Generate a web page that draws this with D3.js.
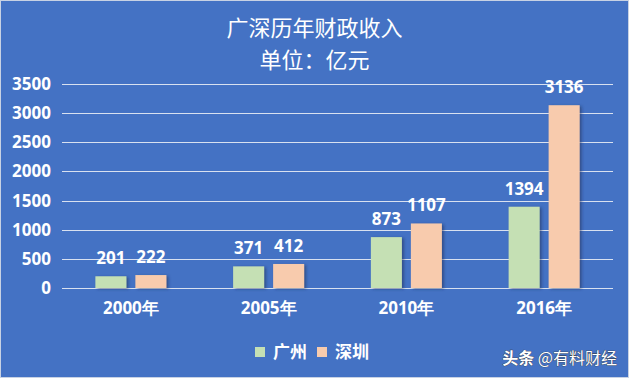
<!DOCTYPE html>
<html>
<head>
<meta charset="utf-8">
<script src="https://cdn.jsdelivr.net/npm/d3@7"></script>
<style>
  body { margin: 0; background: #fff; }
  svg { display: block; }
</style>
</head>
<body>
<div id="chart"></div>
<script>
// data
var years = ["2000年", "2005年", "2010年", "2016年"];
var seriesNames = ["广州", "深圳"];
var guangzhou = [201, 371, 873, 1394];
var shenzhen = [222, 412, 1107, 3136];
var yTicks = [0, 500, 1000, 1500, 2000, 2500, 3000, 3500];

var W = 629, H = 378;
var colors = {"广州": "#C5E0B4", "深圳": "#F8CBAD"};
var bg = "#4472C4";
var numFont = "'Open Sans', 'DejaVu Sans', sans-serif";
var cjkFont = "'Noto Sans CJK SC', sans-serif";

var svg = d3.select("#chart").append("svg")
    .attr("width", W)
    .attr("height", H);

// bar shadow
var defs = svg.append("defs");
var f = defs.append("filter").attr("id", "shadow")
    .attr("x", "-20%").attr("y", "-20%").attr("width", "150%").attr("height", "150%");
f.append("feDropShadow")
    .attr("dx", 2).attr("dy", 1)
    .attr("stdDeviation", 1.5)
    .attr("flood-color", "#1a2d55")
    .attr("flood-opacity", 0.55);

svg.append("rect")
    .attr("x", 0.5).attr("y", 0.5)
    .attr("width", W - 1).attr("height", H - 1)
    .attr("fill", bg)
    .attr("stroke", "#c8d2e4")
    .attr("stroke-width", 1);

// title
svg.append("text")
    .attr("x", W / 2).attr("y", 36)
    .attr("text-anchor", "middle")
    .attr("fill", "#fff")
    .style("font-family", cjkFont)
    .style("font-size", "22px")
    .text("广深历年财政收入");
svg.append("text")
    .attr("x", W / 2).attr("y", 68)
    .attr("text-anchor", "middle")
    .attr("fill", "#fff")
    .style("font-family", cjkFont)
    .style("font-size", "22px")
    .text("单位：亿元");

// scales
var x0 = d3.scaleBand().domain(years).range([62, 613]);
var groupW = 71;
var x1 = d3.scaleBand().domain(seriesNames)
    .range([x0.bandwidth() / 2 - groupW / 2, x0.bandwidth() / 2 + groupW / 2])
    .paddingInner(0.225);
var y = d3.scaleLinear().domain([0, 3500]).range([288, 84]);

// gridlines
svg.append("g").selectAll("line")
    .data(yTicks)
    .join("line")
    .attr("x1", 62).attr("x2", 613)
    .attr("y1", function(d) { return Math.round(y(d)) + 0.5; })
    .attr("y2", function(d) { return Math.round(y(d)) + 0.5; })
    .attr("stroke", "#d9e1f0")
    .attr("stroke-width", 1);

// y axis labels
var yAxis = svg.append("g")
    .attr("transform", "translate(51,0)")
    .call(d3.axisLeft(y).tickValues(yTicks).tickFormat(d3.format("d")).tickSize(0).tickPadding(0));
yAxis.select(".domain").remove();
yAxis.selectAll("text")
    .attr("fill", "#fff")
    .style("font-family", numFont)
    .style("font-weight", "bold")
    .style("font-size", "17px");

// x axis labels
var xAxis = svg.append("g")
    .attr("transform", "translate(0,302)")
    .call(d3.axisBottom(x0).tickSize(0).tickPadding(0));
xAxis.select(".domain").remove();
xAxis.selectAll("text")
    .attr("fill", "#fff")
    .attr("dy", "0.71em")
    .style("font-family", numFont)
    .style("font-weight", "bold")
    .style("font-size", "17px");

// bars
var rows = years.map(function(yr, i) {
  return {year: yr, values: [
    {name: "广州", value: guangzhou[i]},
    {name: "深圳", value: shenzhen[i]}
  ]};
});

var groups = svg.append("g").selectAll("g")
    .data(rows)
    .join("g")
    .attr("transform", function(d) { return "translate(" + x0(d.year) + ",0)"; });

groups.selectAll("rect")
    .data(function(d) { return d.values; })
    .join("rect")
    .attr("x", function(d) { return x1(d.name); })
    .attr("y", function(d) { return y(d.value); })
    .attr("width", x1.bandwidth())
    .attr("height", function(d) { return y(0) - y(d.value); })
    .attr("fill", function(d) { return colors[d.name]; })
    .attr("filter", "url(#shadow)");

groups.selectAll("text")
    .data(function(d) { return d.values; })
    .join("text")
    .attr("x", function(d) { return x1(d.name) + x1.bandwidth() / 2; })
    .attr("y", function(d) { return y(d.value) - 12; })
    .attr("text-anchor", "middle")
    .attr("fill", "#fff")
    .style("font-family", numFont)
    .style("font-weight", "bold")
    .style("font-size", "17px")
    .text(function(d) { return d.value; });

// legend
var legend = svg.append("g").selectAll("g")
    .data(seriesNames)
    .join("g")
    .attr("transform", function(d, i) { return "translate(" + (255 + i * 62) + ",347)"; });
legend.append("rect")
    .attr("width", 10).attr("height", 10)
    .attr("fill", function(d) { return colors[d]; });
legend.append("text")
    .attr("x", 18).attr("y", 5)
    .attr("dy", "0.36em")
    .attr("fill", "#fff")
    .style("font-family", cjkFont)
    .style("font-weight", "bold")
    .style("font-size", "17px")
    .text(function(d) { return d; });

// watermark
var wm = svg.append("text")
    .attr("x", 617).attr("y", 364)
    .attr("text-anchor", "end")
    .attr("fill", "#fff")
    .attr("stroke", "#333")
    .attr("stroke-width", 0.6)
    .attr("paint-order", "stroke")
    .style("font-family", cjkFont)
    .style("font-size", "16px");
wm.append("tspan").style("font-weight", "bold").text("头条 ");
wm.append("tspan").text("@有料财经");
</script>
</body>
</html>
